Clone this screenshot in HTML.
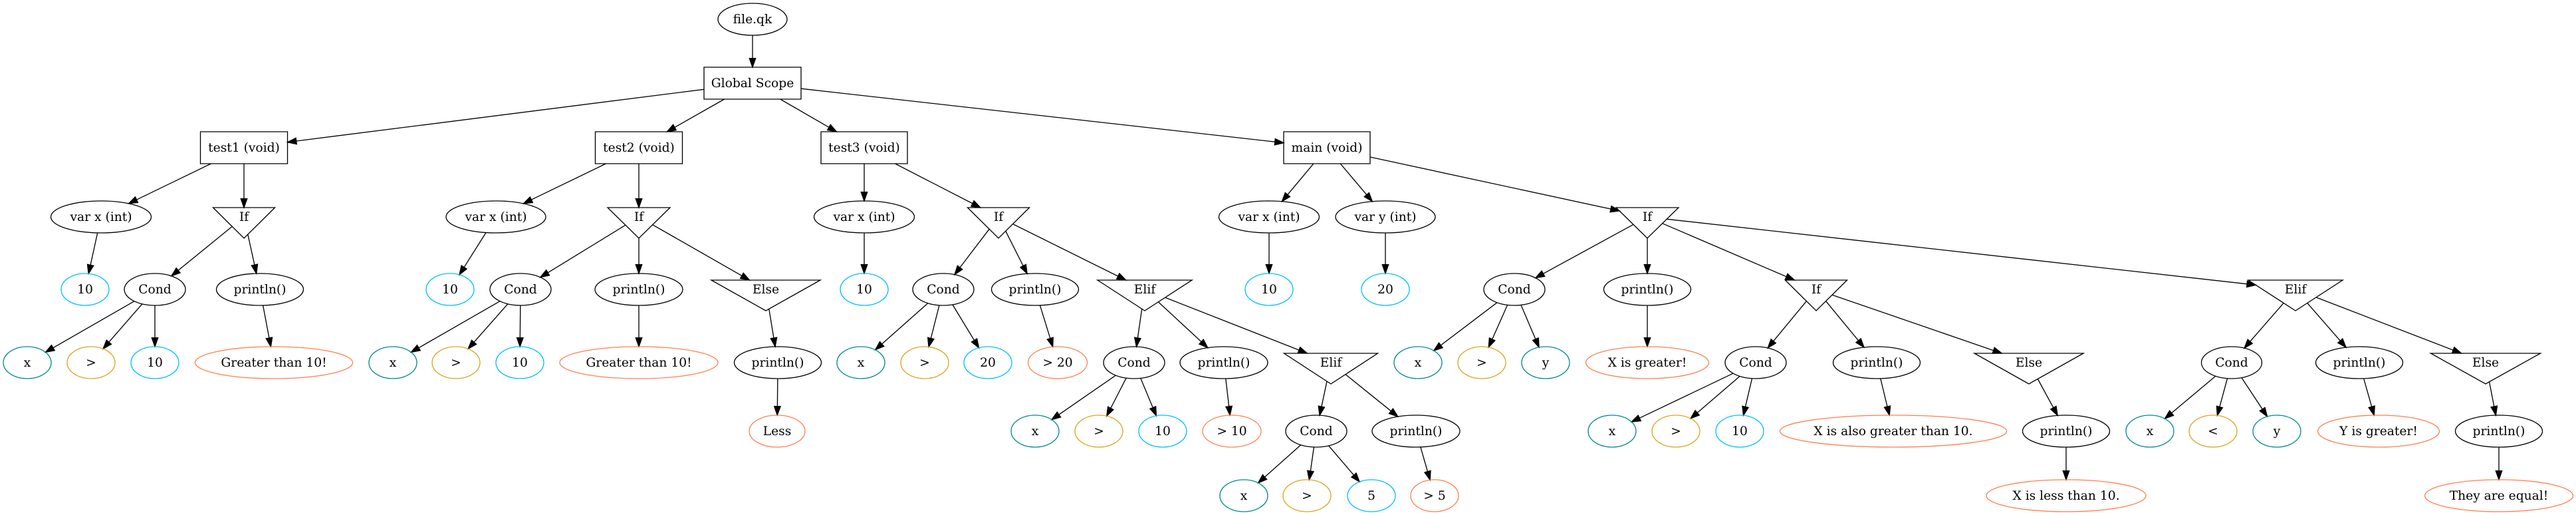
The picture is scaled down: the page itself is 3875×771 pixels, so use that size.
<!DOCTYPE html>
<html><head><meta charset="utf-8"><style>
html,body{margin:0;padding:0;background:#fff;width:3875px;height:771px;overflow:hidden}
svg text{font-family:"DejaVu Serif","Liberation Serif",serif;font-size:18.67px}
</style></head><body>
<svg id="s" xmlns="http://www.w3.org/2000/svg" width="3875" height="771" viewBox="0 0 3875 771"></svg>
<script>
var R=[29,125,222,326,435,545,648,745];
var C={k:"#000",t:"#008b8b",o:"#daa520",b:"#00bfff",c:"#ff7f50"};
var N={};
function n(id,l,sh,x,r,w,col){N[id]={l:l,sh:sh,x:x,y:R[r],w:w,c:C[col||'k']};}
n('f','file.qk','e',1132,0,104);
n('g','Global Scope','b',1132,1,146);
n('t1','test1 (void)','b',367,2,131);
n('t2','test2 (void)','b',961,2,131);
n('t3','test3 (void)','b',1300,2,130);
n('m','main (void)','b',1996,2,130);
n('a1','var x (int)','e',152,3,151);n('a2','If','t',367,3,93);
n('a3','10','e',128,4,72,'b');n('a4','Cond','e',233,4,92);n('a5','println()','e',391,4,131);
n('a6','x','e',41,5,72,'t');n('a7','>','e',137,5,72,'o');n('a8','10','e',233,5,72,'b');n('a9','Greater than 10!','e',412,5,237,'c');
n('b1','var x (int)','e',746,3,150);n('b2','If','t',961,3,94);
n('b3','10','e',677,4,72,'b');n('b4','Cond','e',783,4,92);n('b5','println()','e',961,4,132);n('b6','Else','t',1152,4,164);
n('b7','x','e',591,5,72,'t');n('b8','>','e',686,5,72,'o');n('b9','10','e',782,5,72,'b');n('b10','Greater than 10!','e',961,5,238,'c');n('b11','println()','e',1170,5,131);
n('b12','Less','e',1169,6,84,'c');
n('c1','var x (int)','e',1300,3,151);n('c2','If','t',1502,3,93);
n('c3','10','e',1300,4,72,'b');n('c4','Cond','e',1419,4,92);n('c5','println()','e',1557,4,131);n('c6','Elif','t',1722,4,142);
n('c7','x','e',1295,5,72,'t');n('c8','>','e',1391,5,72,'o');n('c9','20','e',1486,5,72,'b');n('c10','> 20','e',1591,5,89,'c');
n('c11','Cond','e',1706,5,92);n('c12','println()','e',1841,5,132);n('c13','Elif','t',2002,5,141);
n('c14','x','e',1557,6,72,'t');n('c15','>','e',1653,6,72,'o');n('c16','10','e',1749,6,72,'b');n('c17','> 10','e',1853,6,88,'c');
n('c18','Cond','e',1980,6,92);n('c19','println()','e',2130,6,132);
n('c20','x','e',1871,7,72,'t');n('c21','>','e',1966,7,72,'o');n('c22','5','e',2063,7,72,'b');n('c23','> 5','e',2158,7,72,'c');
n('d1','var x (int)','e',1909,3,151);n('d2','var y (int)','e',2084,3,150);n('d3','If','t',2478,3,94);
n('d4','10','e',1909,4,72,'b');n('d5','20','e',2084,4,72,'b');
n('d6','Cond','e',2278,4,92);n('d7','println()','e',2478,4,131);n('d8','If','t',2732,4,93);n('d9','Elif','t',3453,4,142);
n('d10','x','e',2133,5,72,'t');n('d11','>','e',2229,5,72,'o');n('d12','y','e',2325,5,72,'t');n('d13','X is greater!','e',2478,5,185,'c');
n('d14','Cond','e',2641,5,92);n('d15','println()','e',2823,5,131);n('d16','Else','t',3052,5,164);
n('d17','Cond','e',3357,5,91);n('d18','println()','e',3549,5,131);n('d19','Else','t',3739,5,165);
n('d20','x','e',2425,6,72,'t');n('d21','>','e',2521,6,72,'o');n('d22','10','e',2617,6,72,'b');n('d23','X is also greater than 10.','e',2848,6,341,'c');
n('d24','println()','e',3108,6,131);
n('d25','x','e',3234,6,72,'t');n('d26','<','e',3329,6,72,'o');n('d27','y','e',3425,6,72,'t');n('d28','Y is greater!','e',3578,6,183,'c');n('d29','println()','e',3759,6,131);
n('d30','X is less than 10.','e',3108,7,240,'c');n('d31','They are equal!','e',3759,7,223,'c');
var E=[['f','g'],['g','t1'],['g','t2'],['g','t3'],['g','m'],
['t1','a1'],['t1','a2'],['a1','a3'],['a2','a4'],['a2','a5'],['a4','a6'],['a4','a7'],['a4','a8'],['a5','a9'],
['t2','b1'],['t2','b2'],['b1','b3'],['b2','b4'],['b2','b5'],['b2','b6'],['b4','b7'],['b4','b8'],['b4','b9'],['b5','b10'],['b6','b11'],['b11','b12'],
['t3','c1'],['t3','c2'],['c1','c3'],['c2','c4'],['c2','c5'],['c2','c6'],['c4','c7'],['c4','c8'],['c4','c9'],['c5','c10'],
['c6','c11'],['c6','c12'],['c6','c13'],['c11','c14'],['c11','c15'],['c11','c16'],['c12','c17'],['c13','c18'],['c13','c19'],
['c18','c20'],['c18','c21'],['c18','c22'],['c19','c23'],
['m','d1'],['m','d2'],['m','d3'],['d1','d4'],['d2','d5'],['d3','d6'],['d3','d7'],['d3','d8'],['d3','d9'],
['d6','d10'],['d6','d11'],['d6','d12'],['d7','d13'],['d8','d14'],['d8','d15'],['d8','d16'],
['d14','d20'],['d14','d21'],['d14','d22'],['d15','d23'],['d16','d24'],['d24','d30'],
['d9','d17'],['d9','d18'],['d9','d19'],['d17','d25'],['d17','d26'],['d17','d27'],['d18','d28'],['d19','d29'],['d29','d31']];
function poly(o){
  var p=[],x=o.x,y=o.y,w=o.w/2;
  if(o.sh=='e'){for(var i=0;i<96;i++){var a=i/96*2*Math.PI;p.push([x+w*Math.cos(a),y+24*Math.sin(a)]);}}
  else if(o.sh=='b'){p=[[x-w,y-24],[x+w,y-24],[x+w,y+24],[x-w,y+24]];}
  else {p=[[x-w,y-14],[x+w,y-14],[x,y+32]];}
  return p;
}
function clip(o,ax,ay,bx,by){
  var p=poly(o),bt=2;
  for(var i=0;i<p.length;i++){
    var c=p[i],d=p[(i+1)%p.length];
    var rx=bx-ax,ry=by-ay,sx=d[0]-c[0],sy=d[1]-c[1];
    var den=rx*sy-ry*sx; if(Math.abs(den)<1e-9)continue;
    var t=((c[0]-ax)*sy-(c[1]-ay)*sx)/den,u=((c[0]-ax)*ry-(c[1]-ay)*rx)/den;
    if(t>=0&&t<=1&&u>=0&&u<=1&&t<bt){bt=t;}
  }
  if(bt>1)bt=0;
  return [ax+(bx-ax)*bt,ay+(by-ay)*bt];
}
var s='';
E.forEach(function(e){
  var A=N[e[0]],B=N[e[1]];
  var p=clip(A,A.x,A.y,B.x,B.y),q=clip(B,B.x,B.y,A.x,A.y);
  var dx=q[0]-p[0],dy=q[1]-p[1],L=Math.hypot(dx,dy),ux=dx/L,uy=dy/L;
  var al=13.3,hw=4.7;
  var bx=q[0]-ux*al,by=q[1]-uy*al;
  s+='<line x1="'+p[0].toFixed(1)+'" y1="'+p[1].toFixed(1)+'" x2="'+bx.toFixed(1)+'" y2="'+by.toFixed(1)+'" stroke="#000" stroke-width="1.33"/>';
  s+='<polygon points="'+q[0].toFixed(1)+','+q[1].toFixed(1)+' '+(bx-uy*hw).toFixed(1)+','+(by+ux*hw).toFixed(1)+' '+(bx+uy*hw).toFixed(1)+','+(by-ux*hw).toFixed(1)+'" fill="#000" stroke="#000" stroke-width="1.33"/>';
});
function esc(t){return t.replace(/&/g,'&amp;').replace(/</g,'&lt;').replace(/>/g,'&gt;');}
for(var k in N){var o=N[k];
  if(o.sh=='e')s+='<ellipse cx="'+o.x+'" cy="'+o.y+'" rx="'+o.w/2+'" ry="24" fill="none" stroke="'+o.c+'" stroke-width="1.33"/>';
  else s+='<polygon points="'+poly(o).map(function(v){return v.join(',')}).join(' ')+'" fill="none" stroke="#000" stroke-width="1.33"/>';
  s+='<text x="'+o.x+'" y="'+(o.y+6)+'" text-anchor="middle" fill="#000">'+esc(o.l)+'</text>';
}
document.getElementById('s').innerHTML=s;
</script>
</body></html>
